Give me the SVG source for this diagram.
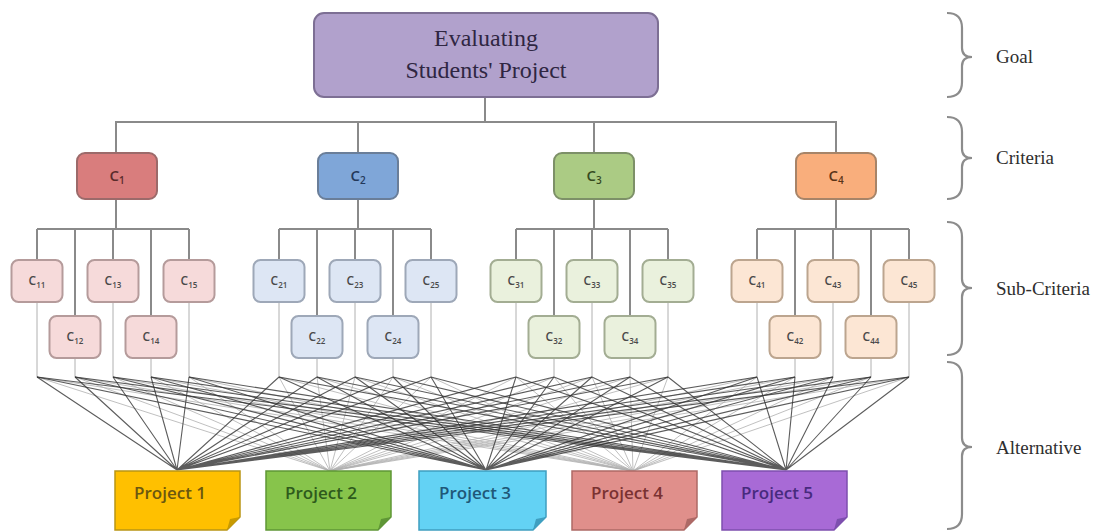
<svg xmlns="http://www.w3.org/2000/svg" width="1094" height="532" viewBox="0 0 1094 532">
<style>
.bus{stroke:#8a8a8a;stroke-width:2;fill:none}
.drop{stroke:#b0b0b0;stroke-width:1;fill:none}
.mesh{stroke:#333;stroke-width:1.1;fill:none;opacity:0.8}
.meshl{stroke:#b0b0b0;stroke-width:1;fill:none;opacity:0.8}
.brace{stroke:#8c8c8c;stroke-width:2.2;fill:none}
.lvl{font-family:"Liberation Serif",serif;font-size:19px;fill:#2e2e2e}
.crit{stroke-width:2}
.sub{stroke-width:2}
.ct{font-family:"Open Sans","Liberation Sans",sans-serif;font-size:15px;font-weight:600;text-anchor:middle}
.st{font-family:"Open Sans","Liberation Sans",sans-serif;font-size:12px;font-weight:600;text-anchor:middle;fill:#4a4a4a}
.pt{font-family:"Open Sans","Liberation Sans",sans-serif;font-size:17px;font-weight:600;text-anchor:middle}
.g1{fill:#f6dada;stroke:#b59b9b}
.g2{fill:#dde6f4;stroke:#9ea8b8}
.g3{fill:#eaf1dd;stroke:#a3ad93}
.g4{fill:#fce6d4;stroke:#bca58f}
</style>

<g id="connectors">
  <path class="bus" d="M485 97V122M115 122H837M116 122V153M358 122V153M594 122V153M836 122V153"/>
  <path class="bus" d="M116 199V229M37 229H189M37 229V260M75 229V316M113 229V260M151 229V316M189 229V260"/>
  <path class="bus" d="M358 199V229M279 229H431M279 229V260M317 229V316M355 229V260M393 229V316M431 229V260"/>
  <path class="bus" d="M594 199V229M516 229H668M516 229V260M554 229V316M592 229V260M630 229V316M668 229V260"/>
  <path class="bus" d="M836 199V229M757 229H909M757 229V260M795 229V316M833 229V260M871 229V316M909 229V260"/>
  <path class="drop" d="M37 302V377M75 358V377M113 302V377M151 358V377M189 302V377M279 302V377M317 358V377M355 302V377M393 358V377M431 302V377M516 302V377M554 358V377M592 302V377M630 358V377M668 302V377M757 302V377M795 358V377M833 302V377M871 358V377M909 302V377"/>
  <path class="meshl" d="M37 377L330 471M75 377L330 471M113 377L330 471M151 377L330 471M189 377L330 471M279 377L330 471M317 377L330 471M355 377L330 471M393 377L330 471M431 377L330 471M516 377L330 471M554 377L330 471M592 377L330 471M630 377L330 471M668 377L330 471M757 377L330 471M795 377L330 471M833 377L330 471M871 377L330 471M909 377L330 471"/>
  <path class="meshl" d="M37 377L633 471M75 377L633 471M113 377L633 471M151 377L633 471M189 377L633 471M279 377L633 471M317 377L633 471M355 377L633 471M393 377L633 471M431 377L633 471M516 377L633 471M554 377L633 471M592 377L633 471M630 377L633 471M668 377L633 471M757 377L633 471M795 377L633 471M833 377L633 471M871 377L633 471M909 377L633 471"/>
  <path class="mesh" d="M37 377L177 470M75 377L177 470M113 377L177 470M151 377L177 470M189 377L177 470M279 377L177 470M317 377L177 470M355 377L177 470M393 377L177 470M431 377L177 470M516 377L177 470M554 377L177 470M592 377L177 470M630 377L177 470M668 377L177 470M757 377L177 470M795 377L177 470M833 377L177 470M871 377L177 470M909 377L177 470"/>
  <path class="mesh" d="M37 377L486 470M75 377L486 470M113 377L486 470M151 377L486 470M189 377L486 470M279 377L486 470M317 377L486 470M355 377L486 470M393 377L486 470M431 377L486 470M516 377L486 470M554 377L486 470M592 377L486 470M630 377L486 470M668 377L486 470M757 377L486 470M795 377L486 470M833 377L486 470M871 377L486 470M909 377L486 470"/>
  <path class="mesh" d="M37 377L786 470M75 377L786 470M113 377L786 470M151 377L786 470M189 377L786 470M279 377L786 470M317 377L786 470M355 377L786 470M393 377L786 470M431 377L786 470M516 377L786 470M554 377L786 470M592 377L786 470M630 377L786 470M668 377L786 470M757 377L786 470M795 377L786 470M833 377L786 470M871 377L786 470M909 377L786 470"/>
</g>

<g id="goal">
  <rect x="314" y="13" width="344" height="84" rx="10" fill="#b1a1cc" stroke="#7d6f94" stroke-width="2"/>
  <text x="486" y="46" text-anchor="middle" font-family="Liberation Serif, serif" font-size="24" fill="#2f2642">Evaluating</text>
  <text x="486" y="78" text-anchor="middle" font-family="Liberation Serif, serif" font-size="24" fill="#2f2642">Students' Project</text>
</g>

<g id="c1"><rect class="crit" x="77" y="153" width="80" height="46" rx="8" fill="#d97d7d" stroke="#9c6a6a"/><text class="ct" x="117" y="181" fill="#5a2b2b">C<tspan font-size="10" dy="3">1</tspan></text></g>
<g id="c2"><rect class="crit" x="318" y="153" width="80" height="46" rx="8" fill="#7fa6d8" stroke="#6a7e99"/><text class="ct" x="358" y="181" fill="#23385a">C<tspan font-size="10" dy="3">2</tspan></text></g>
<g id="c3"><rect class="crit" x="554" y="153" width="80" height="46" rx="8" fill="#abcb84" stroke="#7d9068"/><text class="ct" x="594" y="181" fill="#364a1f">C<tspan font-size="10" dy="3">3</tspan></text></g>
<g id="c4"><rect class="crit" x="796" y="153" width="80" height="46" rx="8" fill="#f9ae7c" stroke="#a78468"/><text class="ct" x="836" y="181" fill="#5a3418">C<tspan font-size="10" dy="3">4</tspan></text></g>

<g id="c11"><rect class="sub g1" x="11.5" y="260" width="51" height="42" rx="7"/><text class="st" x="37" y="285">C<tspan font-size="8" dy="3">11</tspan></text></g>
<g id="c12"><rect class="sub g1" x="49.5" y="316" width="51" height="42" rx="7"/><text class="st" x="75" y="341">C<tspan font-size="8" dy="3">12</tspan></text></g>
<g id="c13"><rect class="sub g1" x="87.5" y="260" width="51" height="42" rx="7"/><text class="st" x="113" y="285">C<tspan font-size="8" dy="3">13</tspan></text></g>
<g id="c14"><rect class="sub g1" x="125.5" y="316" width="51" height="42" rx="7"/><text class="st" x="151" y="341">C<tspan font-size="8" dy="3">14</tspan></text></g>
<g id="c15"><rect class="sub g1" x="163.5" y="260" width="51" height="42" rx="7"/><text class="st" x="189" y="285">C<tspan font-size="8" dy="3">15</tspan></text></g>

<g id="c21"><rect class="sub g2" x="253.5" y="260" width="51" height="42" rx="7"/><text class="st" x="279" y="285">C<tspan font-size="8" dy="3">21</tspan></text></g>
<g id="c22"><rect class="sub g2" x="291.5" y="316" width="51" height="42" rx="7"/><text class="st" x="317" y="341">C<tspan font-size="8" dy="3">22</tspan></text></g>
<g id="c23"><rect class="sub g2" x="329.5" y="260" width="51" height="42" rx="7"/><text class="st" x="355" y="285">C<tspan font-size="8" dy="3">23</tspan></text></g>
<g id="c24"><rect class="sub g2" x="367.5" y="316" width="51" height="42" rx="7"/><text class="st" x="393" y="341">C<tspan font-size="8" dy="3">24</tspan></text></g>
<g id="c25"><rect class="sub g2" x="405.5" y="260" width="51" height="42" rx="7"/><text class="st" x="431" y="285">C<tspan font-size="8" dy="3">25</tspan></text></g>

<g id="c31"><rect class="sub g3" x="490.5" y="260" width="51" height="42" rx="7"/><text class="st" x="516" y="285">C<tspan font-size="8" dy="3">31</tspan></text></g>
<g id="c32"><rect class="sub g3" x="528.5" y="316" width="51" height="42" rx="7"/><text class="st" x="554" y="341">C<tspan font-size="8" dy="3">32</tspan></text></g>
<g id="c33"><rect class="sub g3" x="566.5" y="260" width="51" height="42" rx="7"/><text class="st" x="592" y="285">C<tspan font-size="8" dy="3">33</tspan></text></g>
<g id="c34"><rect class="sub g3" x="604.5" y="316" width="51" height="42" rx="7"/><text class="st" x="630" y="341">C<tspan font-size="8" dy="3">34</tspan></text></g>
<g id="c35"><rect class="sub g3" x="642.5" y="260" width="51" height="42" rx="7"/><text class="st" x="668" y="285">C<tspan font-size="8" dy="3">35</tspan></text></g>

<g id="c41"><rect class="sub g4" x="731.5" y="260" width="51" height="42" rx="7"/><text class="st" x="757" y="285">C<tspan font-size="8" dy="3">41</tspan></text></g>
<g id="c42"><rect class="sub g4" x="769.5" y="316" width="51" height="42" rx="7"/><text class="st" x="795" y="341">C<tspan font-size="8" dy="3">42</tspan></text></g>
<g id="c43"><rect class="sub g4" x="807.5" y="260" width="51" height="42" rx="7"/><text class="st" x="833" y="285">C<tspan font-size="8" dy="3">43</tspan></text></g>
<g id="c44"><rect class="sub g4" x="845.5" y="316" width="51" height="42" rx="7"/><text class="st" x="871" y="341">C<tspan font-size="8" dy="3">44</tspan></text></g>
<g id="c45"><rect class="sub g4" x="883.5" y="260" width="51" height="42" rx="7"/><text class="st" x="909" y="285">C<tspan font-size="8" dy="3">45</tspan></text></g>

<g id="p1"><path d="M115 471H240V517L227 530H115Z" fill="#ffc000" stroke="#b99514" stroke-width="1.5"/><path d="M240 517L227 530L230 519Z" fill="#c89a00"/><text class="pt" x="170" y="499" fill="#6b5710">Project 1</text></g>
<g id="p2"><path d="M266 471H391V517L378 530H266Z" fill="#87c44b" stroke="#5f9636" stroke-width="1.5"/><path d="M391 517L378 530L381 519Z" fill="#5f9636"/><text class="pt" x="321" y="499" fill="#2e5a1c">Project 2</text></g>
<g id="p3"><path d="M419 471H546V517L533 530H419Z" fill="#63d2f4" stroke="#3f9fc0" stroke-width="1.5"/><path d="M546 517L533 530L536 519Z" fill="#3f9fc0"/><text class="pt" x="475" y="499" fill="#1f5878">Project 3</text></g>
<g id="p4"><path d="M572 471H697V517L684 530H572Z" fill="#e08f8b" stroke="#ad6966" stroke-width="1.5"/><path d="M697 517L684 530L687 519Z" fill="#ad6966"/><text class="pt" x="627" y="499" fill="#7a3232">Project 4</text></g>
<g id="p5"><path d="M722 471H847V517L834 530H722Z" fill="#a86ad6" stroke="#7d4fae" stroke-width="1.5"/><path d="M847 517L834 530L837 519Z" fill="#7d4fae"/><text class="pt" x="777" y="499" fill="#472a7e">Project 5</text></g>

<g id="levels">
  <path class="brace" d="M947 13Q962 13 962 28V48Q962 57 972 57Q962 57 962 66V82Q962 97 947 97"/>
  <path class="brace" d="M947 117Q962 117 962 132V149Q962 158 972 158Q962 158 962 167V184Q962 199 947 199"/>
  <path class="brace" d="M947 222Q962 222 962 237V279Q962 288 972 288Q962 288 962 297V340Q962 355 947 355"/>
  <path class="brace" d="M947 362Q962 362 962 377V438Q962 447 972 447Q962 447 962 456V514Q962 529 947 529"/>
  <text class="lvl" x="996" y="63">Goal</text>
  <text class="lvl" x="996" y="164">Criteria</text>
  <text class="lvl" x="996" y="295">Sub-Criteria</text>
  <text class="lvl" x="996" y="454">Alternative</text>
</g>
</svg>
